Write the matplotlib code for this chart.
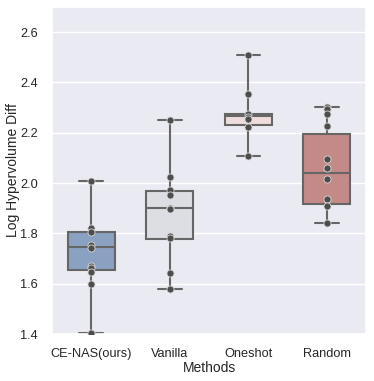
import matplotlib
matplotlib.use("Agg")
import matplotlib.pyplot as plt
import seaborn as sns

sns.set_theme(style="darkgrid")
plt.rcParams["font.family"] = ["Liberation Sans", "DejaVu Sans"]

methods = ["CE-NAS(ours)", "Vanilla", "Oneshot", "Random"]
box_colors = ["#8aa1c1", "#dcdee3", "#efdcdc", "#c48a88"]

# box statistics
q1 = [1.653, 1.779, 2.229, 1.917]
med = [1.748, 1.901, 2.268, 2.041]
q3 = [1.804, 1.969, 2.275, 2.195]
whislo = [1.405, 1.579, 2.108, 1.843]
whishi = [2.008, 2.252, 2.508, 2.303]

# individual runs
ce_nas = [2.008, 1.821, 1.804, 1.756, 1.743, 1.669, 1.661, 1.648, 1.599, 1.405]
vanilla = [2.252, 2.023, 1.972, 1.952, 1.903, 1.896, 1.788, 1.781, 1.644, 1.579]
oneshot = [2.508, 2.352, 2.275, 2.262, 2.254, 2.221, 2.109]
random_runs = [2.303, 2.296, 2.276, 2.228, 2.097, 2.059, 2.016, 1.936, 1.908, 1.843]
points = [ce_nas, vanilla, oneshot, random_runs]

fig = plt.figure(figsize=(3.74, 3.81), dpi=100)
ax = fig.add_axes([0.139, 0.123, 0.840, 0.859])

stats = [dict(label=m, q1=a, med=b, q3=c, whislo=d, whishi=e, fliers=[])
         for m, a, b, c, d, e in zip(methods, q1, med, q3, whislo, whishi)]
line = dict(color="#666666", linewidth=1.5)
bp = ax.bxp(stats, positions=range(len(methods)), widths=0.6, patch_artist=True,
            boxprops=dict(edgecolor="#666666", linewidth=1.5),
            medianprops=line, whiskerprops=line, capprops=line, zorder=2)
for patch, col in zip(bp["boxes"], box_colors):
    patch.set_facecolor(col)

for i, vals in enumerate(points):
    ax.scatter([i] * len(vals), vals, s=26, color="#4d4d4d",
               edgecolor="#d8d8d8", linewidth=0.6, zorder=3)

ax.set_xlim(-0.5, 3.5)
ax.set_ylim(1.4, 2.7)
ax.set_yticks([1.4, 1.6, 1.8, 2.0, 2.2, 2.4, 2.6])
ax.set_xticks(range(len(methods)), methods)
ax.xaxis.grid(False)
ax.tick_params(labelsize=9.2, pad=4)
ax.set_xlabel("Methods", fontsize=10)
ax.set_ylabel("Log Hypervolume Diff", fontsize=10)
ax.xaxis.set_label_coords(0.5, -0.083)
ax.yaxis.set_label_coords(-0.102, 0.5)

fig.savefig("out.png", dpi=100)
